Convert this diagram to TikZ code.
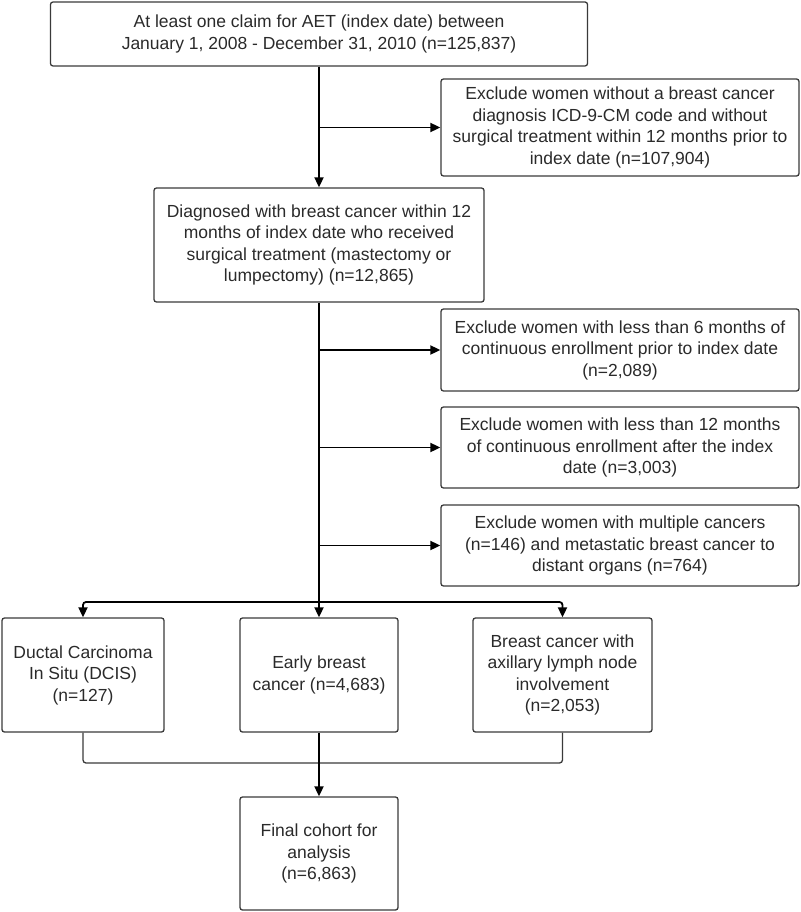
\documentclass[tikz,border=0pt]{standalone}
\usepackage{fontspec}
\setmainfont{Liberation Sans}
\usetikzlibrary{arrows.meta}
\definecolor{txt}{HTML}{2A2A2A}
\definecolor{edge}{HTML}{3A3A3A}
\begin{document}
\begin{tikzpicture}[x=1pt,y=-1pt,
  box/.style={draw=edge, line width=1.3pt, rounded corners=2.5pt, align=center,
    font=\fontsize{17.5}{21.5}\selectfont, text=txt, inner sep=0pt},
  conn/.style={draw=black, line width=1.8pt},
  arr/.style={conn, -{Triangle[length=10pt,width=9pt]}}]
\useasboundingbox (0,0) rectangle (800,912);
\node[box, minimum width=537, minimum height=64] (top) at (319,34)
  {At least one claim for AET (index date) between\\January 1, 2008 - December 31, 2010 (n=125,837)};
\node[box, minimum width=358, minimum height=97] (ex1) at (620,127.5)
  {Exclude women without a breast cancer\\diagnosis ICD-9-CM code and without\\surgical treatment within 12 months prior to\\index date (n=107,904)};
\node[box, minimum width=330, minimum height=114] (diag) at (319,245)
  {Diagnosed with breast cancer within 12\\months of index date who received\\surgical treatment (mastectomy or\\lumpectomy) (n=12,865)};
\node[box, minimum width=358, minimum height=82] (ex2) at (620,350)
  {Exclude women with less than 6 months of\\continuous enrollment prior to index date\\(n=2,089)};
\node[box, minimum width=358, minimum height=81] (ex3) at (620,447.5)
  {Exclude women with less than 12 months\\of continuous enrollment after the index\\date (n=3,003)};
\node[box, minimum width=358, minimum height=81] (ex4) at (620,545.5)
  {Exclude women with multiple cancers\\(n=146) and metastatic breast cancer to\\distant organs (n=764)};
\node[box, minimum width=162, minimum height=114] (dcis) at (83,675)
  {Ductal Carcinoma\\In Situ (DCIS)\\(n=127)};
\node[box, minimum width=158, minimum height=114] (early) at (319,675)
  {Early breast\\cancer (n=4,683)};
\node[box, minimum width=179, minimum height=114] (axil) at (562.5,675)
  {Breast cancer with\\axillary lymph node\\involvement\\(n=2,053)};
\node[box, minimum width=158, minimum height=113] (final) at (319,853.5)
  {Final cohort for\\analysis\\(n=6,863)};
\coordinate (split) at (319,602);
\coordinate (merge) at (319,763);
\draw[arr] (top.south) -- (diag.north);
\draw[arr] (top.south |- ex1.west) -- (ex1.west);
\draw[conn] (diag.south) -- (split);
\draw[arr] (diag.south |- ex2.west) -- (ex2.west);
\draw[arr] (diag.south |- ex3.west) -- (ex3.west);
\draw[arr] (diag.south |- ex4.west) -- (ex4.west);
\draw[arr] (split) -- (early.north);
\draw[arr, rounded corners=3pt] (split) -| (dcis.north);
\draw[arr, rounded corners=3pt] (split) -| (axil.north);
\draw[conn, line width=1.3pt, draw=edge, rounded corners=3pt] (dcis.south) |- (merge) -| (axil.south);
\draw[arr] (early.south) -- (final.north);
\end{tikzpicture}
\end{document}
